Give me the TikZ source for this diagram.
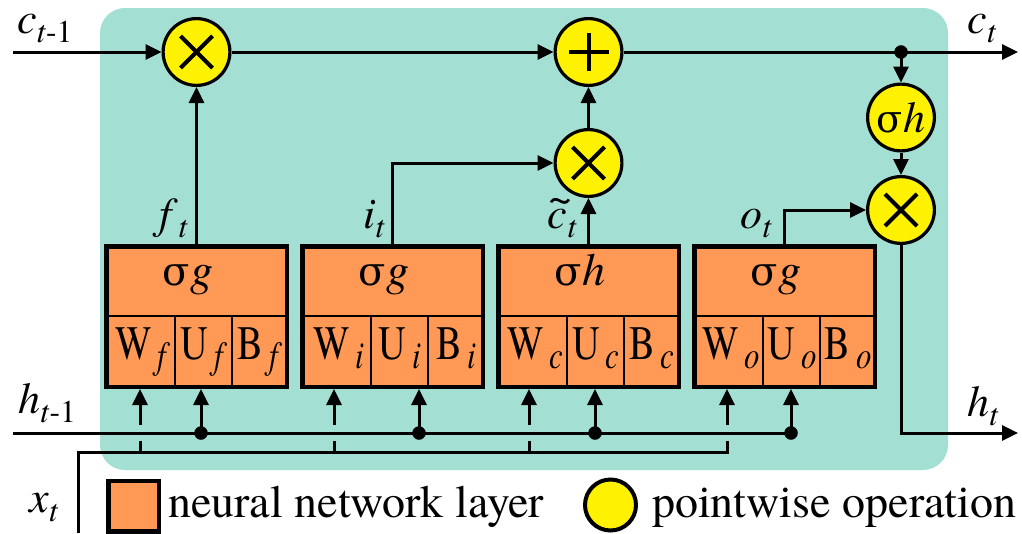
\documentclass[tikz,border=0pt]{standalone}
\usepackage{fontspec}
\usepackage{graphicx}
\IfFontExistsTF{texgyretermes-regular.otf}{%
  \setmainfont{texgyretermes-regular.otf}[ItalicFont=texgyretermes-italic.otf, BoldFont=texgyretermes-bold.otf]
  \newfontfamily\narrow{texgyretermes-regular.otf}[FakeStretch=0.8, ItalicFont=texgyretermes-italic.otf]}{%
  \setmainfont{Liberation Serif}
  \newfontfamily\narrow[FakeStretch=0.8]{Liberation Serif}}
\newfontfamily\greek{DejaVu Serif}[Scale=0.87]
\usetikzlibrary{arrows.meta,positioning}
\definecolor{cellteal}{RGB}{163,224,211}
\definecolor{nnorange}{RGB}{255,153,85}
\definecolor{opyellow}{RGB}{255,242,0}
\newcommand{\tsub}[1]{\raisebox{-.22em}{\scalebox{.72}{#1}}}
\newcommand{\csub}[1]{\hspace{.12em}\raisebox{-.2em}{\scalebox{.8}{#1}}}
\newcommand{\tildec}{\makebox[0pt][l]{\hspace{.02em}\raisebox{.36em}{\textasciitilde}}\textit{c}}

\begin{document}
\begin{tikzpicture}[x=1pt,y=-1pt,>={Triangle[length=16pt,width=15pt]},
    font=\fontsize{44}{50}\selectfont,
    wire/.style={line width=3pt},
    cellline/.style={line width=2.8pt},
    gatebox/.style={draw, line width=4.5pt, fill=nnorange, minimum width=180.5pt, minimum height=140.5pt, inner sep=0pt},
    acttext/.style={anchor=base, inner sep=0pt, font=\fontsize{46}{50}\selectfont},
    celltext/.style={anchor=base, inner sep=0pt, font=\narrow\fontsize{48}{50}\selectfont},
    lbl/.style={inner sep=0pt},
    opcirc/.style={circle, draw, line width=3.2pt, fill=opyellow, minimum size=66.8pt, inner sep=0pt},
    mult/.style={opcirc, path picture={
        \draw[line width=4pt] ([shift={(-16pt,-16pt)}]path picture bounding box.center) -- ([shift={(16pt,16pt)}]path picture bounding box.center)
            ([shift={(-16pt,16pt)}]path picture bounding box.center) -- ([shift={(16pt,-16pt)}]path picture bounding box.center);}},
    addop/.style={opcirc, path picture={
        \draw[line width=4pt] ([shift={(-20pt,0pt)}]path picture bounding box.center) -- ([shift={(20pt,0pt)}]path picture bounding box.center)
            ([shift={(0pt,-19pt)}]path picture bounding box.center) -- ([shift={(0pt,19pt)}]path picture bounding box.center);}},
    legendbox/.style={draw, line width=4.5pt, fill=nnorange, minimum size=50.5pt, inner sep=0pt},
    legendop/.style={circle, draw, line width=4pt, fill=opyellow, minimum size=51pt, inner sep=0pt}]
    \useasboundingbox (0,0) rectangle (1022,533);
    \fill[cellteal, rounded corners=25pt] (100,8) rectangle (948,470);

    % gates
    \foreach \g/\a/\x/\wx/\hx in {f/g/104/140/201, i/g/300/334/419, c/h/496/529/595, o/g/692/727/791} {
        \node[gatebox] (box\g) at (\x+92.5,316.5) {};
        \draw[cellline] (\x,316) -- (\x+185,316) (\x+71,316) -- (\x+71,389) (\x+128,316) -- (\x+128,389);
        \node[acttext] (act\g) at (\x+84,285) {{\greek σ}\textit{\a}};
        \node[celltext] (W\g) at (\x+39,359) {W\csub{\textit{\g}}};
        \node[celltext] (U\g) at (\x+100,359) {U\csub{\textit{\g}}};
        \node[celltext] (B\g) at (\x+156,359) {B\csub{\textit{\g}}};
        \coordinate (hd\g) at (\hx,433);
        \coordinate (xd\g) at (\wx,452);
        \coordinate (xg\g) at (\wx,441);
        \coordinate (xa\g) at (\wx,425);
        \draw[wire,->] (hd\g) -- (hd\g |- box\g.south);
        \draw[wire] (xd\g) -- (xg\g);
        \draw[wire,->] (xa\g) -- (xa\g |- box\g.south);
    }

    % pointwise operations
    \node[mult] (mulf) at (196.5,52) {};
    \node[addop] (add) at (588.5,52) {};
    \node[mult] (muli) at (588.5,163) {};
    \node[opcirc] (tanhc) at (901,117.5) {{\greek σ}\textit{h}};
    \node[mult] (mulo) at (901,210) {};

    \coordinate (cin) at (13,52);
    \coordinate (cout) at (1018,52);
    \coordinate (csplit) at (901,52);
    \coordinate (hin) at (13,433);
    \coordinate (hout) at (1018,433);
    \coordinate (xin) at (78,533);
    \coordinate (xturn) at (78,452);

    \draw[wire,->] (cin) -- (mulf);
    \draw[wire,->] (mulf) -- (add);
    \draw[wire,->] (add) -- (cout);
    \draw[wire,->] (csplit) -- (tanhc);
    \draw[fill] (csplit) circle (6.5pt);
    \draw[wire,->] (tanhc) -- (mulo);
    \draw[wire,->] (mulo) |- (hout);
    \draw[wire,->] (boxf) -- (mulf);
    \draw[wire,->] (boxi) |- (muli);
    \draw[wire,->] (boxc) -- (muli);
    \draw[wire,->] (muli) -- (add);
    \draw[wire,->] (boxo) |- (mulo);
    \draw[wire] (hin) -- (hdo);
    \foreach \g in {f,i,c,o} \draw[fill] (hd\g) circle (6.5pt);
    \draw[wire] (xin) -- (xturn) -- (xdo) -- (xgo);

    % labels
    \node[lbl, anchor=base west] (lcin) at (17,33) {\textit{c}\tsub{\textit{t}-1}};
    \node[lbl, anchor=base west] (lcout) at (967,33) {\textit{c}\tsub{\textit{t}}};
    \node[lbl, anchor=base west] (lhin) at (18,413) {\textit{h}\tsub{\textit{t}-1}};
    \node[lbl, anchor=base west] (lhout) at (967,416) {\textit{h}\tsub{\textit{t}}};
    \node[lbl, anchor=base west] (lxin) at (29,512) {\textit{x}\tsub{\textit{t}}};
    \node[lbl, anchor=base east] (lf) at (188,228) {\textit{f}\tsub{\textit{t}}};
    \node[lbl, anchor=base east] (li) at (385,228) {\textit{i}\tsub{\textit{t}}};
    \node[lbl, anchor=base east] (lc) at (577,228) {\tildec\tsub{\textit{t}}};
    \node[lbl, anchor=base east] (lo) at (772,228) {\textit{o}\tsub{\textit{t}}};

    % legend
    \node[legendbox] (legnn) at (133.5,506) {};
    \node[lbl, anchor=base west, font=\fontsize{46}{50}\selectfont] (legnntext) at (168,517) {neural network layer};
    \node[legendop] (legop) at (610.5,505) {};
    \node[lbl, anchor=base west, font=\fontsize{46}{50}\selectfont] (legoptext) at (652,517) {pointwise operation};
\end{tikzpicture}
\end{document}
